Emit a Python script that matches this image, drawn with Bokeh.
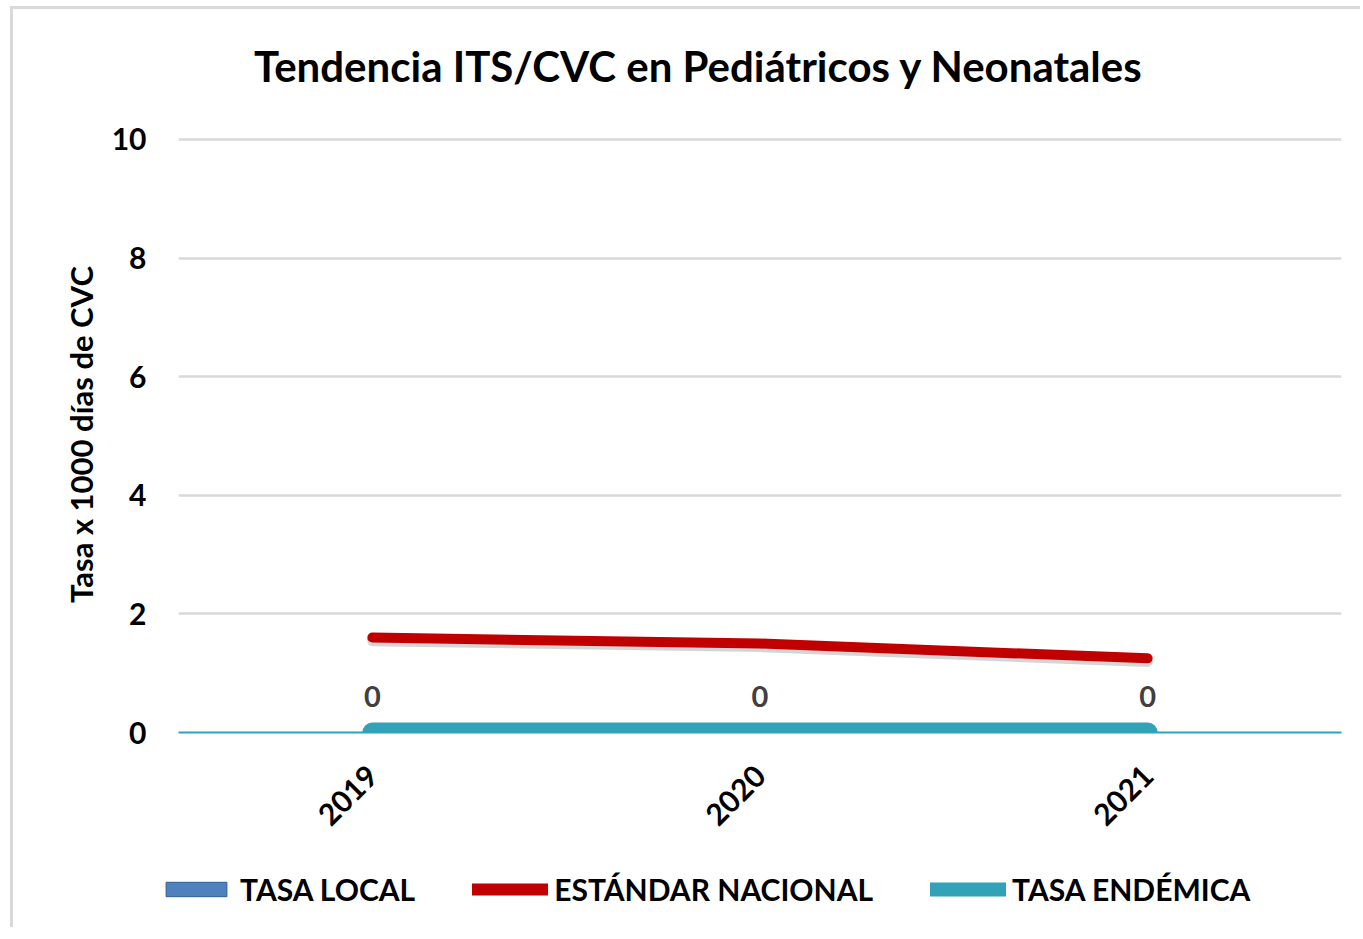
from bokeh.plotting import figure
from bokeh.models import Legend, LegendItem, ColumnDataSource, FixedTicker, Label
from bokeh.embed import file_html
from bokeh.resources import INLINE
from bokeh.transform import dodge
import math

years = ["2019", "2020", "2021"]
tasa_local = [0, 0, 0]
estandar_nacional = [1.6, 1.5, 1.25]
tasa_endemica = [0, 0, 0]
y_ticks = [0, 2, 4, 6, 8, 10]
title_text = "Tendencia ITS/CVC en Pediátricos y Neonatales"

FONT = "Lato"
RED = "#C00000"
TEAL = "#31A2B8"
BLUE = "#4F81BD"
BORDER = "3px solid #d9d9d9"


def strip(height, xr=(0, 1347), yr=(0, 100)):
    f = figure(x_range=xr, y_range=yr, width=1350, height=height,
               output_backend="svg", toolbar_location=None,
               min_border=0, x_axis_type=None, y_axis_type=None)
    f.outline_line_color = None
    f.xgrid.visible = False
    f.ygrid.visible = False
    f.border_fill_color = "white"
    return f


# ---- title strip
tf = strip(100, yr=(0, 97))
tf.styles = {"margin-left": "10px", "margin-top": "6px",
             "border-left": BORDER, "border-top": BORDER}
tf.add_layout(Label(x=240, y=42, text=title_text, text_font=FONT,
                    text_font_size="42px", text_font_style="bold",
                    text_color="black", text_baseline="middle"))

# ---- main chart
src = ColumnDataSource(dict(x=years, local=tasa_local, nac=estandar_nacional,
                            end=tasa_endemica, lbl=[str(v) for v in tasa_local]))

p = figure(x_range=years, y_range=(0, 10.05), width=1350, height=741,
           output_backend="svg", toolbar_location=None,
           min_border_left=165, min_border_right=22, min_border_top=30,
           min_border_bottom=115)
p.outline_line_color = None
p.styles = {"margin-left": "10px", "border-left": BORDER}

p.vbar(x="x", top="local", width=0.5, source=src, fill_color=BLUE,
       line_color="#2E5E91")
p.line(x="x", y=dodge("nac", -0.06), source=src, line_color="#888888",
       line_alpha=0.35, line_width=10, line_cap="round", line_join="round")
p.line(x="x", y="nac", source=src, line_color=RED, line_width=10,
       line_cap="round", line_join="round")
p.line(x="x", y="end", source=src, line_color=TEAL, line_width=20,
       line_cap="round", line_join="round")
p.text(x="x", y="local", text="lbl", source=src, y_offset=-36,
       text_align="center", text_baseline="middle", text_color="#404040",
       text_font_size="29px", text_font_style="bold", text_font={"value": FONT})

p.yaxis.ticker = FixedTicker(ticks=y_ticks)
p.yaxis.axis_line_color = None
p.yaxis.major_tick_line_color = None
p.yaxis.minor_tick_line_color = None
p.yaxis.major_label_text_font = FONT
p.yaxis.major_label_text_font_size = "30px"
p.yaxis.major_label_text_font_style = "bold"
p.yaxis.major_label_text_color = "black"
p.yaxis.major_label_standoff = 26
p.yaxis.axis_label = "Tasa x 1000 días de CVC"
p.yaxis.axis_label_text_font = FONT
p.yaxis.axis_label_text_font_size = "31px"
p.yaxis.axis_label_text_font_style = "bold"
p.yaxis.axis_label_text_color = "black"
p.yaxis.axis_label_standoff = 9

p.xaxis.axis_line_color = TEAL
p.xaxis.axis_line_width = 2
p.xaxis.major_tick_line_color = None
p.xaxis.minor_tick_line_color = None
p.xaxis.major_label_orientation = math.pi / 4
p.xaxis.major_label_text_font = FONT
p.xaxis.major_label_text_font_size = "30px"
p.xaxis.major_label_text_font_style = "bold"
p.xaxis.major_label_text_color = "black"
p.xaxis.major_label_standoff = 32

p.xgrid.grid_line_color = None
p.ygrid.grid_line_color = "#D9D9D9"
p.ygrid.grid_line_width = 2.5
p.background_fill_color = "white"
p.border_fill_color = "white"

# ---- legend strip: same series as hidden renderers, only their legend shows
lf = strip(80, xr=years, yr=(0, 10))
lf.styles = {"margin-left": "10px", "border-left": BORDER}
leg_bar = lf.vbar(x=years, top=tasa_local, width=0.5, fill_color=BLUE,
                  line_color="#2E5E91", visible=False)
leg_red = lf.line(x=years, y=estandar_nacional, line_color=RED, line_width=12,
                  line_cap="round", visible=False)
leg_teal = lf.line(x=years, y=tasa_endemica, line_color=TEAL, line_width=14,
                   line_cap="round", visible=False)
legend = Legend(items=[LegendItem(label="TASA LOCAL", renderers=[leg_bar]),
                       LegendItem(label="ESTÁNDAR NACIONAL", renderers=[leg_red]),
                       LegendItem(label="TASA ENDÉMICA", renderers=[leg_teal])],
                orientation="horizontal", location=(145, 20),
                glyph_width=76, glyph_height=18, label_standoff=6, spacing=57,
                padding=0, margin=0, border_line_color=None, background_fill_alpha=0,
                inactive_fill_alpha=0,
                label_text_font=FONT, label_text_font_size="30px",
                label_text_font_style="bold", label_text_color="black")
lf.add_layout(legend, "center")

open("out.html", "w").write(file_html([tf, p, lf], INLINE))
